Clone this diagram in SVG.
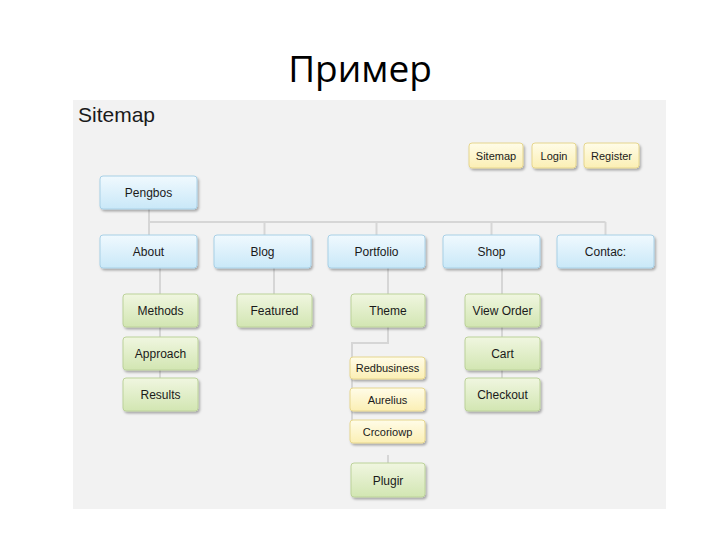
<svg xmlns="http://www.w3.org/2000/svg" width="720" height="540" viewBox="0 0 720 540">
  <defs>
    <linearGradient id="gBlue" x1="0" y1="0" x2="0" y2="1">
      <stop offset="0" stop-color="#f0f9fe"/>
      <stop offset="1" stop-color="#c9e8f8"/>
    </linearGradient>
    <linearGradient id="gGreen" x1="0" y1="0" x2="0" y2="1">
      <stop offset="0" stop-color="#f0f6e0"/>
      <stop offset="1" stop-color="#d2e6b2"/>
    </linearGradient>
    <linearGradient id="gYellow" x1="0" y1="0" x2="0" y2="1">
      <stop offset="0" stop-color="#fffce8"/>
      <stop offset="1" stop-color="#fbefb4"/>
    </linearGradient>
    <filter id="sh" x="-10%" y="-10%" width="130%" height="140%">
      <feDropShadow dx="1.5" dy="2" stdDeviation="1" flood-color="#000" flood-opacity="0.3"/>
    </filter>
  </defs>
  <style>
    .title { font-family: "Open Sans", "Liberation Sans", sans-serif; font-size: 37px; fill: #000; }
    .head { font-family: "Liberation Sans", Arial, sans-serif; font-size: 21px; fill: #1a1a1a; }
    .lbl { font-family: "Liberation Sans", Arial, sans-serif; font-size: 12px; fill: #1a1a1a; text-anchor: middle; }
    .sm { font-size: 11px; }
    .blue { fill: url(#gBlue); stroke: #a8d0e6; stroke-width: 1; filter: url(#sh); }
    .green { fill: url(#gGreen); stroke: #bcd29a; stroke-width: 1; filter: url(#sh); }
    .yellow { fill: url(#gYellow); stroke: #e6d68e; stroke-width: 1; filter: url(#sh); }
    .conn { fill: none; stroke: #d6d6d6; stroke-width: 2; }
  </style>

  <rect width="720" height="540" fill="#ffffff"/>
  <text class="title" x="360" y="82" text-anchor="middle">Пример</text>
  <rect x="73" y="100" width="593" height="409" fill="#f2f2f2"/>
  <text class="head" x="78" y="122">Sitemap</text>

  <g id="connectors">
    <path class="conn" d="M149 209 V235 M149 222 H605.5 M264.5 222 V235 M376.5 222 V235 M491.5 222 V235 M605.5 222 V235"/>
    <path class="conn" d="M160 268 V294 M160 327 V337 M160 370 V378"/>
    <path class="conn" d="M274 268 V294"/>
    <path class="conn" d="M388 268 V294 M388 327 V343 H352 V443 M388 455 V463"/>
    <path class="conn" d="M502 268 V294 M502 327 V337 M502 370 V378"/>
  </g>

  <g id="n-sitemap"><rect class="yellow" x="469" y="143" width="54" height="25" rx="3"/><text class="lbl sm" x="496" y="159.5">Sitemap</text></g>
  <g id="n-login"><rect class="yellow" x="532" y="143" width="44" height="25" rx="3"/><text class="lbl sm" x="554" y="159.5">Login</text></g>
  <g id="n-register"><rect class="yellow" x="584" y="143" width="55" height="25" rx="3"/><text class="lbl sm" x="611.5" y="159.5">Register</text></g>

  <g id="n-pengbos"><rect class="blue" x="100" y="176" width="97" height="33" rx="3"/><text class="lbl" x="148.5" y="197">Pengbos</text></g>

  <g id="n-about"><rect class="blue" x="100" y="235" width="97" height="33" rx="3"/><text class="lbl" x="148.5" y="256">About</text></g>
  <g id="n-blog"><rect class="blue" x="214" y="235" width="97" height="33" rx="3"/><text class="lbl" x="262.5" y="256">Blog</text></g>
  <g id="n-portfolio"><rect class="blue" x="328" y="235" width="97" height="33" rx="3"/><text class="lbl" x="376.5" y="256">Portfolio</text></g>
  <g id="n-shop"><rect class="blue" x="443" y="235" width="97" height="33" rx="3"/><text class="lbl" x="491.5" y="256">Shop</text></g>
  <g id="n-contact"><rect class="blue" x="557" y="235" width="97" height="33" rx="3"/><text class="lbl" x="605.5" y="256">Contac:</text></g>

  <g id="n-methods"><rect class="green" x="123" y="294" width="75" height="33" rx="3"/><text class="lbl" x="160.5" y="315">Methods</text></g>
  <g id="n-approach"><rect class="green" x="123" y="337" width="75" height="33" rx="3"/><text class="lbl" x="160.5" y="358">Approach</text></g>
  <g id="n-results"><rect class="green" x="123" y="378" width="75" height="33" rx="3"/><text class="lbl" x="160.5" y="399">Results</text></g>

  <g id="n-featured"><rect class="green" x="237" y="294" width="75" height="33" rx="3"/><text class="lbl" x="274.5" y="315">Featured</text></g>

  <g id="n-theme"><rect class="green" x="351" y="294" width="74" height="33" rx="3"/><text class="lbl" x="388" y="315">Theme</text></g>
  <g id="n-redbusiness"><rect class="yellow" x="350" y="357" width="75" height="22" rx="3"/><text class="lbl sm" x="387.5" y="372">Redbusiness</text></g>
  <g id="n-aurelius"><rect class="yellow" x="350" y="388" width="75" height="23" rx="3"/><text class="lbl sm" x="387.5" y="403.5">Aurelius</text></g>
  <g id="n-crcoriowp"><rect class="yellow" x="350" y="420" width="75" height="23" rx="3"/><text class="lbl sm" x="387.5" y="435.5">Crcoriowp</text></g>
  <g id="n-plugin"><rect class="green" x="351" y="463" width="74" height="34" rx="3"/><text class="lbl" x="388" y="484.5">Plugir</text></g>

  <g id="n-vieworder"><rect class="green" x="465" y="294" width="75" height="33" rx="3"/><text class="lbl" x="502.5" y="315">View Order</text></g>
  <g id="n-cart"><rect class="green" x="465" y="337" width="75" height="33" rx="3"/><text class="lbl" x="502.5" y="358">Cart</text></g>
  <g id="n-checkout"><rect class="green" x="465" y="378" width="75" height="33" rx="3"/><text class="lbl" x="502.5" y="399">Checkout</text></g>
</svg>
